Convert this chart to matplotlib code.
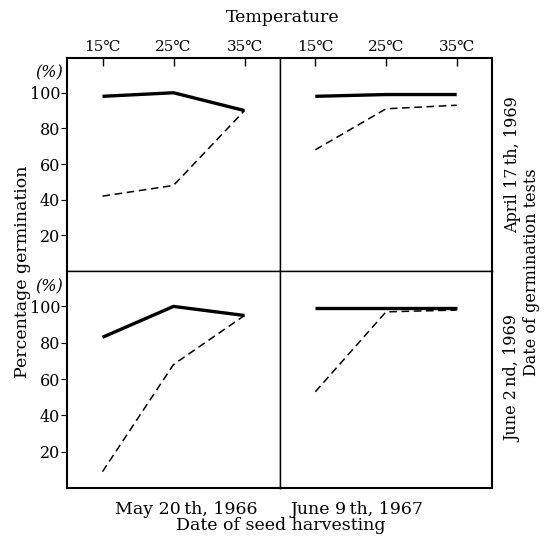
import matplotlib
matplotlib.use("Agg")
import matplotlib.pyplot as plt

temps = [15, 25, 35]
temp_labels = ["15℃", "25℃", "35℃"]
y_ticks = [20, 40, 60, 80, 100]
harvest_dates = ["May 20\u2009th, 1966", "June 9\u2009th, 1967"]
test_dates = ["April 17\u2009th, 1969", "June 2\u2009nd, 1969"]

# rows: test date, cols: harvest date
apr_may66_solid = [98, 100, 90]
apr_may66_dashed = [42, 48, 90]
apr_jun67_solid = [98, 99, 99]
apr_jun67_dashed = [68, 91, 93]
jun_may66_solid = [83, 100, 95]
jun_may66_dashed = [9, 68, 95]
jun_jun67_solid = [99, 99, 99]
jun_jun67_dashed = [53, 97, 98]

solid = [[apr_may66_solid, apr_jun67_solid], [jun_may66_solid, jun_jun67_solid]]
dashed = [[apr_may66_dashed, apr_jun67_dashed], [jun_may66_dashed, jun_jun67_dashed]]

FONT = ["DejaVu Serif", "Noto Sans CJK JP"]
plt.rcParams["font.family"] = FONT

W, H = 545, 539
fig = plt.figure(figsize=(W / 100, H / 100), dpi=100)

xl = [67, 280, 492]
yt = [58, 271, 488]

def fx(px):
    return px / W

def fy(py):
    return 1 - py / H

axes = [[None, None], [None, None]]
for r in range(2):
    for c in range(2):
        ax = fig.add_axes([fx(xl[c]), fy(yt[r + 1]), fx(xl[c + 1]) - fx(xl[c]),
                           fy(yt[r]) - fy(yt[r + 1])])
        axes[r][c] = ax
        ax.set_xlim(10, 40)
        ax.set_ylim(0, 119.5)
        ax.plot(temps, solid[r][c], color="black", lw=2.4, solid_capstyle="butt")
        ax.plot(temps, dashed[r][c], color="black", lw=1.1, dashes=(5, 3))
        for s in ax.spines.values():
            s.set_linewidth(1.0)
        if c == 0:
            ax.spines["left"].set_linewidth(1.5)
        else:
            ax.spines["right"].set_linewidth(1.5)
        if r == 0:
            ax.spines["top"].set_linewidth(1.5)
        else:
            ax.spines["bottom"].set_linewidth(1.5)
        # y ticks
        if c == 0:
            ax.set_yticks(y_ticks)
            ax.set_yticklabels([str(v) for v in y_ticks], fontsize=11.5)
            ax.tick_params(axis="y", direction="out", length=4, width=0.8, pad=1)
            ax.text(-0.085, 100 + 11, "(%)", transform=ax.get_yaxis_transform(),
                    ha="center", va="center", fontsize=11.5, style="italic")
        else:
            ax.set_yticks([])
        # x ticks
        if r == 0:
            ax.xaxis.tick_top()
            ax.set_xticks(temps)
            ax.set_xticklabels(temp_labels, fontsize=11)
            ax.tick_params(axis="x", direction="in", length=6, width=1.0, pad=3)
        else:
            ax.set_xticks([])

# column labels (harvest dates)
col_cx = [186, 357]
for c in range(2):
    fig.text(fx(col_cx[c]), fy(509), harvest_dates[c], ha="center", va="center", fontsize=12.5)
fig.text(fx(281), fy(526), "Date of seed harvesting", ha="center", va="center", fontsize=12.5)
fig.text(fx(283), fy(17), "Temperature", ha="center", va="center", fontsize=12.5)
fig.text(fx(23), fy(272), "Percentage germination", ha="center", va="center",
         rotation=90, fontsize=12.5)
# row labels (test dates)
row_cy = [165, 378]
for r in range(2):
    fig.text(fx(513), fy(row_cy[r]), test_dates[r], ha="center", va="center",
             rotation=90, fontsize=11.5)
fig.text(fx(531), fy(272), "Date of germination tests", ha="center", va="center",
         rotation=90, fontsize=11.5)

fig.savefig("out.png", dpi=100)
